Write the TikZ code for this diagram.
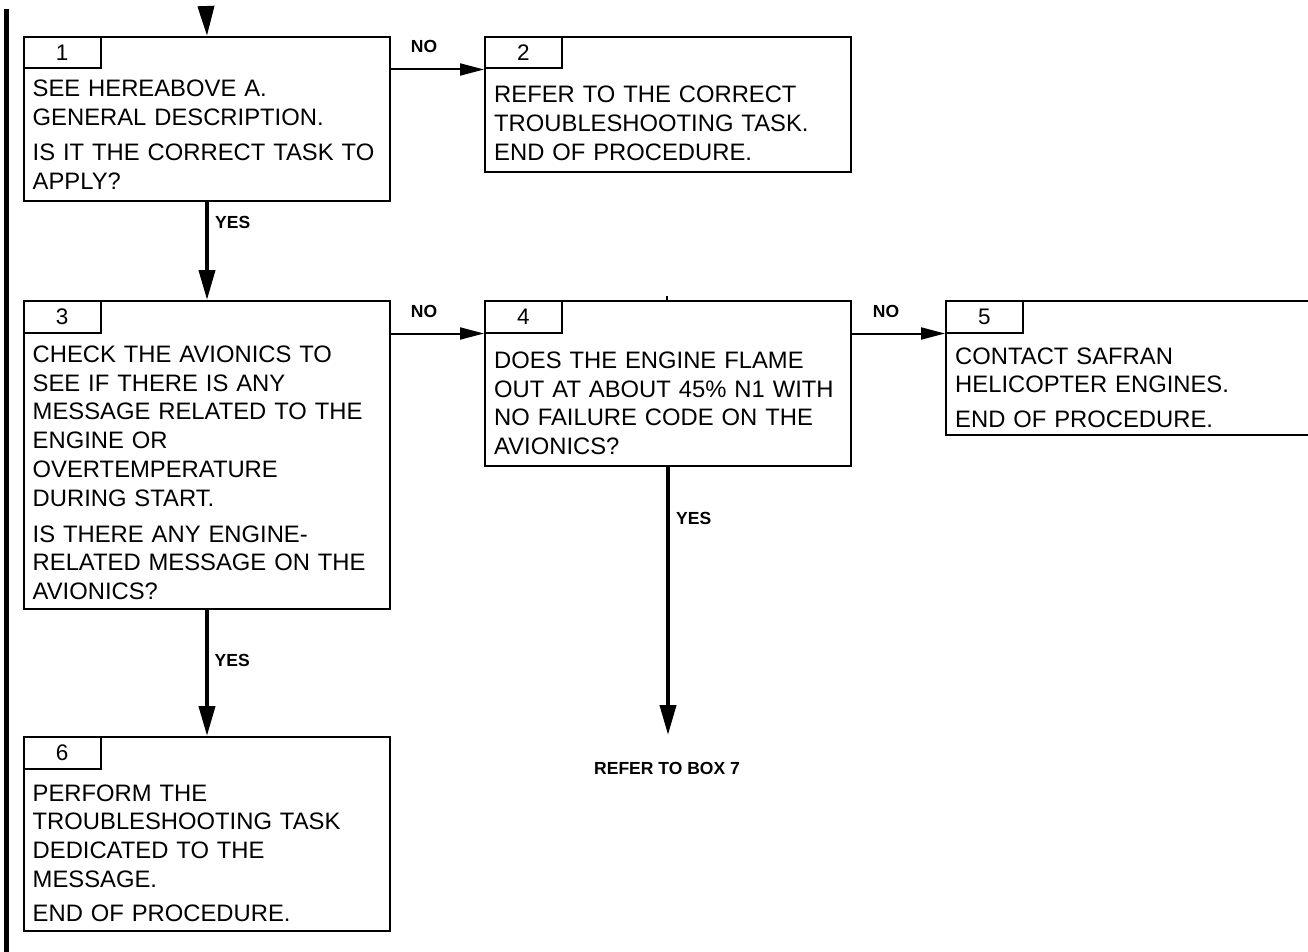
\documentclass[tikz,border=0pt]{standalone}
\usepackage{fontspec}
\setmainfont{Liberation Sans}
\usetikzlibrary{arrows.meta}
\tikzset{
  box/.style={draw, line width=2pt, minimum width=366pt, inner sep=0pt, anchor=north west},
  tab/.style={draw, line width=2pt, minimum width=76.5pt, minimum height=31.5pt, inner sep=0pt, anchor=north west, font=\fontsize{22.5}{22.5}\selectfont},
  txt/.style={anchor=base west, inner sep=0pt, text width=370pt, align=left, font=\fontsize{23.8}{28.8}\selectfont},
  lbl/.style={inner sep=0pt, anchor=base, font=\fontsize{17.5}{17.5}\selectfont\bfseries},
  ylbl/.style={lbl, anchor=base west},
  vflow/.style={line width=4pt, -{Triangle[length=30pt,width=16pt]}},
  hflow/.style={line width=2pt, -{Triangle[length=24pt,width=12pt]}},
}
\begin{document}
\begin{tikzpicture}[x=1pt,y=-1pt]
\useasboundingbox (0,0) rectangle (1308,952);
% left bar
\draw[line width=4.6pt] (6.7,9) -- (6.7,952);
% boxes
\node[box, minimum height=135pt] (b2) at (484,36) {};
\node[box, minimum height=164pt] (b1) at (23,36) {};
\node[box, minimum height=308.3pt] (b3) at (23,300) {};
\node[box, minimum height=165pt] (b4) at (484,300) {};
\node[box, minimum height=134.3pt] (b5) at (945,300) {};
\node[box, minimum height=194pt] (b6) at (23,736) {};
% tabs
\node[tab] (t1) at (b1.north west) {1};
\node[tab] (t2) at (b2.north west) {2};
\node[tab] (t3) at (b3.north west) {3};
\node[tab] (t4) at (b4.north west) {4};
\node[tab] (t5) at (b5.north west) {5};
\node[tab] (t6) at (b6.north west) {6};
% texts
\node[txt] (x1) at (32.5,96.7) {SEE HEREABOVE A.\\GENERAL DESCRIPTION.\\[6.5pt]IS IT THE CORRECT TASK TO\\APPLY?};
\node[txt] (x2) at (494,102.7) {REFER TO THE CORRECT\\TROUBLESHOOTING TASK.\\END OF PROCEDURE.};
\node[txt] (x3) at (32.5,362.3) {CHECK THE AVIONICS TO\\SEE IF THERE IS ANY\\MESSAGE RELATED TO THE\\ENGINE OR\\OVERTEMPERATURE\\DURING START.\\[7pt]IS THERE ANY ENGINE-\\RELATED MESSAGE ON THE\\AVIONICS?};
\node[txt] (x4) at (494,368.3) {DOES THE ENGINE FLAME\\OUT AT ABOUT 45\% N1 WITH\\NO FAILURE CODE ON THE\\AVIONICS?};
\node[txt] (x5) at (955,364) {CONTACT SAFRAN\\HELICOPTER ENGINES.\\[5.5pt]END OF PROCEDURE.};
\node[txt] (x6) at (32.5,801) {PERFORM THE\\TROUBLESHOOTING TASK\\DEDICATED TO THE\\MESSAGE.\\[5.5pt]END OF PROCEDURE.};
% small tick above box 4
\draw[line width=1.5pt] (667,295.5) -- (667,300);
% connectors
\coordinate (top) at (206,7);
\draw[vflow] (top) -- (b1.north);
\draw[hflow] (t1.south -| b1.east) -- (t1.south -| b2.west);
\draw[vflow] (b1.south) -- (b3.north);
\draw[hflow] (t3.south -| b3.east) -- (t3.south -| b4.west);
\draw[hflow] (t4.south -| b4.east) -- (t4.south -| b5.west);
\draw[vflow] (b3.south) -- (b6.north);
\coordinate (e7) at (b4.south |- 0,735);
\draw[vflow] (b4.south) -- (e7);
% labels
\node[lbl] (n1) at (424,52.7) {NO};
\node[lbl] (n2) at (424,317) {NO};
\node[lbl] (n3) at (886,317) {NO};
\node[ylbl] (y1) at (215,228.3) {YES};
\node[ylbl] (y2) at (214.5,666.7) {YES};
\node[ylbl] (y3) at (676,524) {YES};
\node[lbl] (r7) at (667,774.3) {REFER TO BOX 7};
\end{tikzpicture}
\end{document}
